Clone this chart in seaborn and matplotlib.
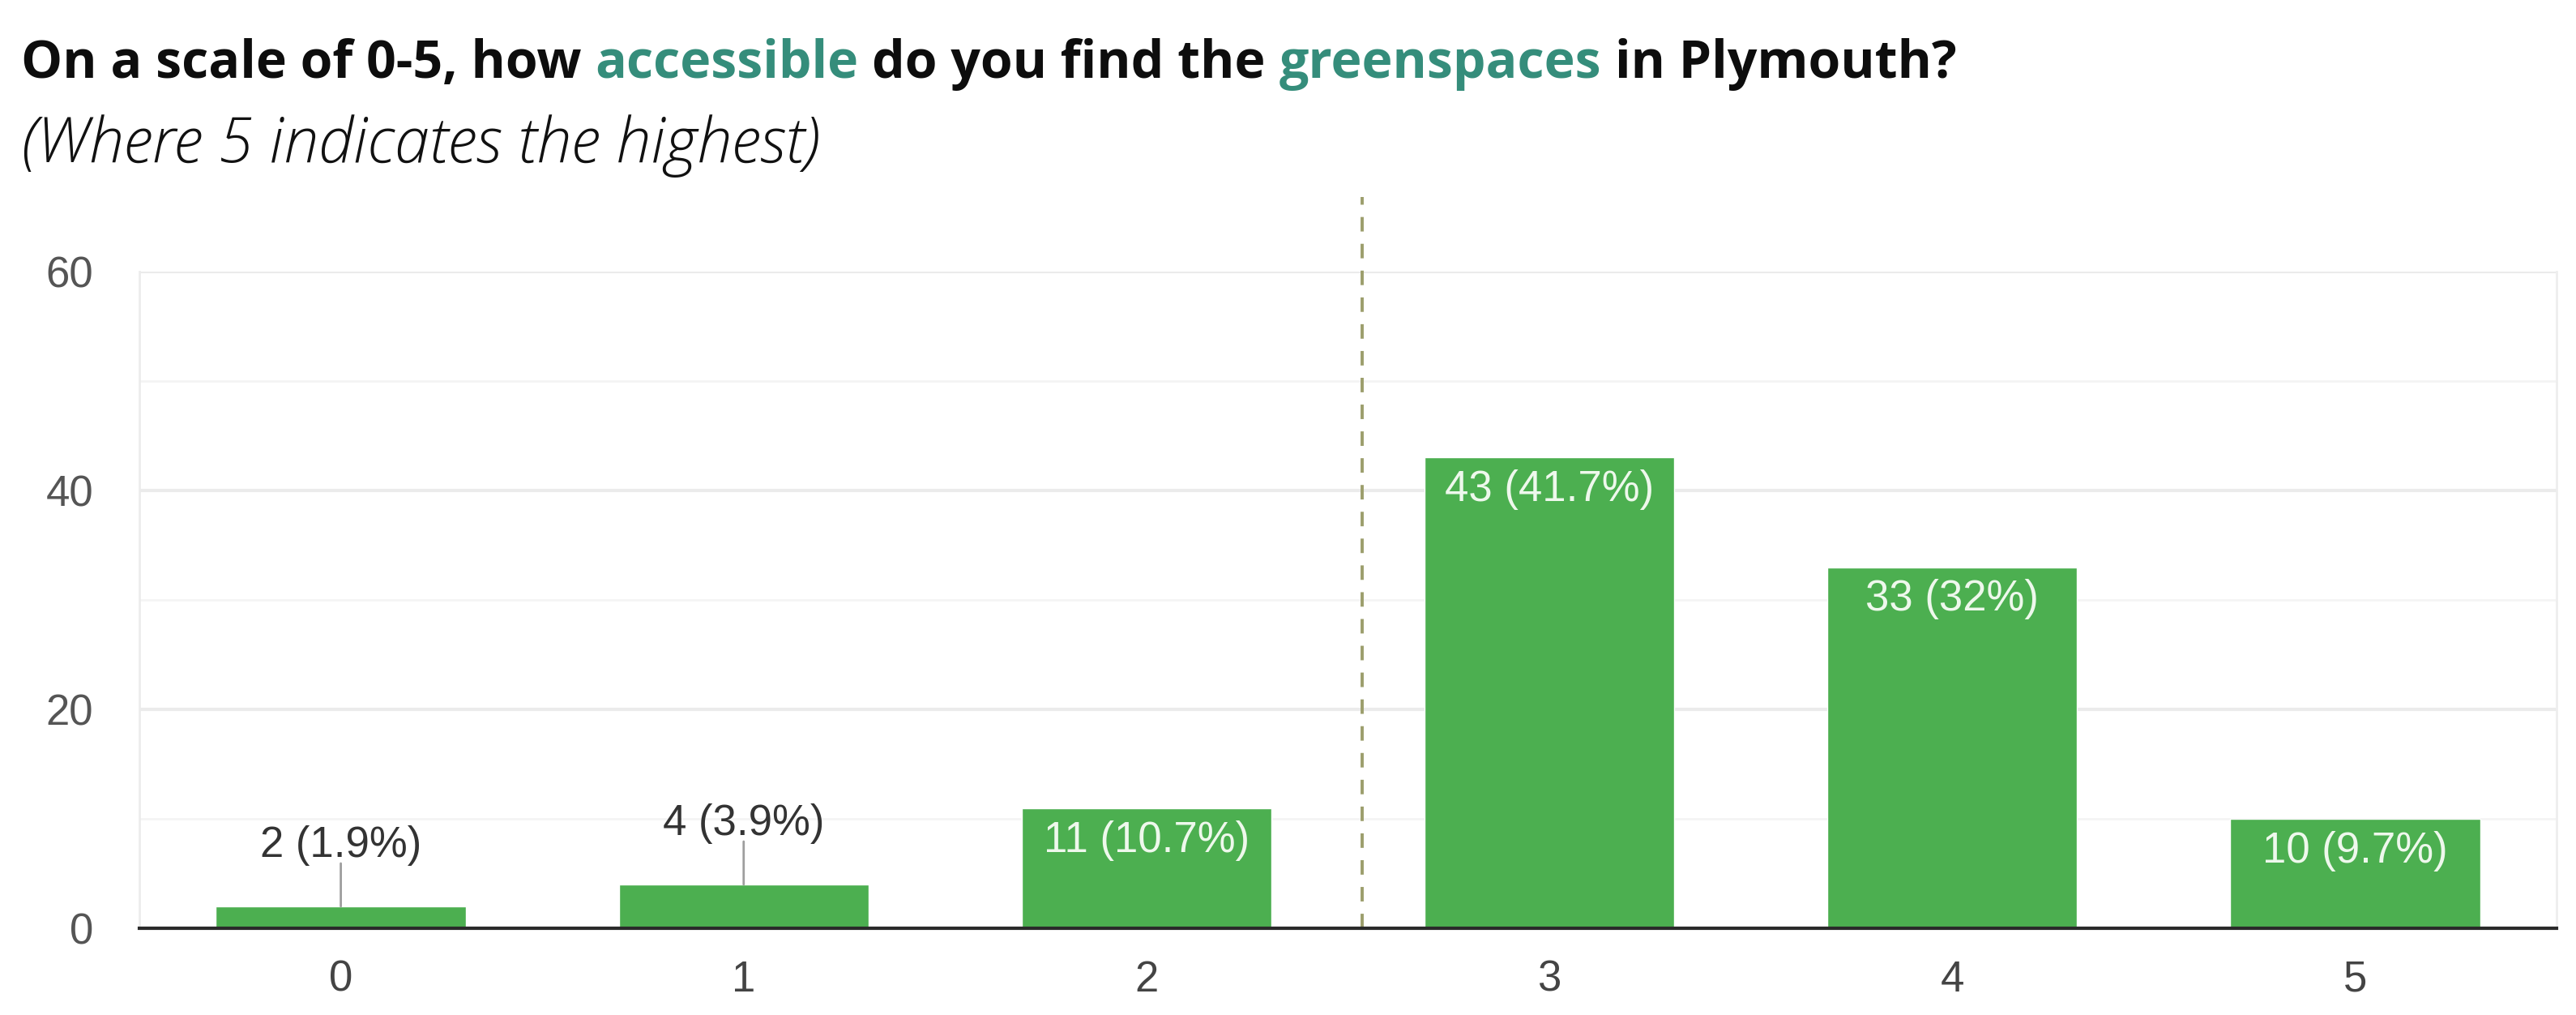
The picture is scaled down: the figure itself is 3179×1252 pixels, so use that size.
import matplotlib
matplotlib.use("Agg")
import matplotlib.pyplot as plt
import seaborn as sns
import pandas as pd

# survey answers
scores = ["0", "1", "2", "3", "4", "5"]
counts = [2, 4, 11, 43, 33, 10]
percents = [1.9, 3.9, 10.7, 41.7, 32, 9.7]
y_major = [0, 20, 40, 60]
y_minor = [10, 30, 50]
marker_x = 2.535  # dashed reference line between 2 and 3
marker_top = 66.8

title_parts = [
    ("On a scale of 0-5, how", False),
    ("accessible", True),
    ("do you find the", False),
    ("greenspaces", True),
    ("in Plymouth?", False),
]
subtitle = "(Where 5 indicates the highest)"

BAR_GREEN = "#4caf50"
TEAL = "#358d7b"
W, H = 3179, 1252

sns.set_style("white")
plt.rcParams["font.family"] = ["Liberation Sans", "DejaVu Sans"]

fig = plt.figure(figsize=(W / 100, H / 100), dpi=100)
renderer = fig.canvas.get_renderer()


def text_width(s, **kw):
    t = fig.text(0, 0, s, **kw)
    w = t.get_window_extent(renderer).width
    t.remove()
    return w


# title in pieces so two words can be teal, squeezed to the reference width
title_kw = dict(family=["Open Sans", "DejaVu Sans"], weight="bold")
full_title = " ".join(p for p, _ in title_parts)
tsize = 50 * 2390 / text_width(full_title, fontsize=50, **title_kw)
space = text_width("x x", fontsize=tsize, **title_kw) - text_width("xx", fontsize=tsize, **title_kw)
x = 26
for part, hi in title_parts:
    t = fig.text(x / W, 1 - 96 / H, part, fontsize=tsize, va="baseline", ha="left",
                 color=TEAL if hi else "#0d0d0d", **title_kw)
    x += t.get_window_extent(renderer).width + space

sub_kw = dict(family=["Open Sans", "DejaVu Sans"], style="italic", weight="light")
ssize = 40 * 985 / text_width(subtitle, fontsize=40, **sub_kw)
fig.text(26 / W, 1 - 200 / H, subtitle, fontsize=ssize, va="baseline", ha="left",
         color="#111111", **sub_kw)

# chart
ax = fig.add_axes([172 / W, 1 - 1145 / H, (3155 - 172) / W, (1145 - 335) / H])
df = pd.DataFrame({"score": scores, "count": counts})
sns.barplot(data=df, x="score", y="count", color=BAR_GREEN, saturation=1,
            width=0.62, ax=ax, zorder=3)

ax.set_xlim(-0.5, 5.5)
ax.set_ylim(0, 60)
ax.set_yticks(y_major)
ax.set_yticks(y_minor, minor=True)
ax.grid(axis="y", which="major", color="#ebebeb", lw=3)
ax.grid(axis="y", which="minor", color="#f4f4f4", lw=2)
ax.grid(axis="x", visible=False)
ax.set_axisbelow(True)
ax.set_xlabel("")
ax.set_ylabel("")
ax.tick_params(axis="x", length=0, pad=28, labelsize=38, labelcolor="#444444")
ax.tick_params(axis="y", which="both", length=0, pad=41, labelsize=38, labelcolor="#555555")

ax.spines["top"].set_visible(False)
ax.spines["left"].set_color("#ececec")
ax.spines["left"].set_linewidth(2)
ax.spines["right"].set_color("#eeeeee")
ax.spines["right"].set_linewidth(2)
ax.spines["bottom"].set_color("#2a2a2a")
ax.spines["bottom"].set_linewidth(3)
ax.spines["bottom"].set_zorder(5)

ax.plot([marker_x, marker_x], [0, marker_top], color="#9c9e6c", lw=2.8,
        ls=(0, (4.6, 3.9)), clip_on=False, zorder=2)

# value labels: small bars get a label above with a leader line
for i, (c, p) in enumerate(zip(counts, percents)):
    label = f"{c} ({p:g}%)"
    if c < 5:
        ax.annotate("", xy=(i, c), xytext=(0, 53), textcoords="offset pixels",
                    arrowprops=dict(arrowstyle="-", color="#9e9e9e", lw=2,
                                    shrinkA=0, shrinkB=0), zorder=4)
        ax.annotate(label, xy=(i, c), xytext=(0, 61), textcoords="offset pixels",
                    ha="center", va="baseline", fontsize=38, color="#333333")
    else:
        ax.annotate(label, xy=(i, c), xytext=(0, -54), textcoords="offset pixels",
                    ha="center", va="baseline", fontsize=38, color="#eef8ec", zorder=4)

fig.savefig("out.png", dpi=100, facecolor="white")
